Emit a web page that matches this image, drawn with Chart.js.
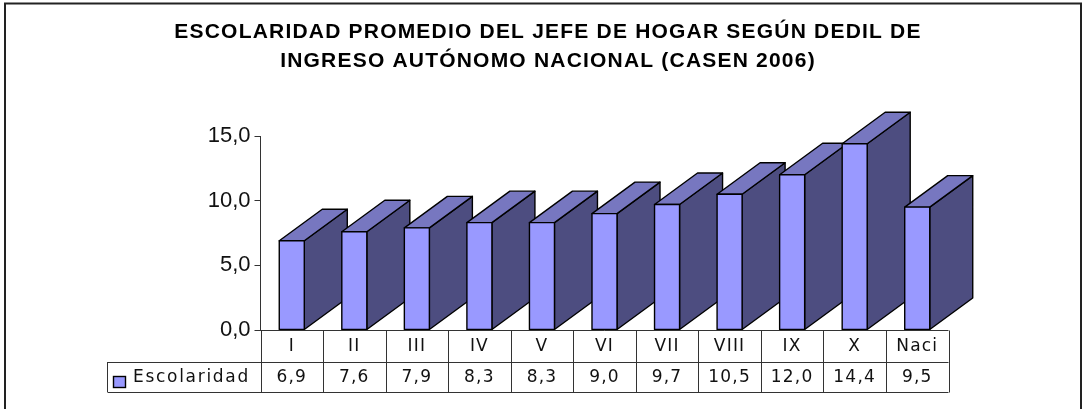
<!DOCTYPE html>
<html><head><meta charset="utf-8">
<style>html,body{margin:0;padding:0;background:#fff}#w{position:absolute;left:0;top:0;width:1088px;height:409px}</style>
<script src="https://cdn.jsdelivr.net/npm/chart.js@4/dist/chart.umd.min.js"></script>
</head><body><div id="w"><canvas id="c" width="1088" height="409"></canvas></div>
<script>
const categories=["I","II","III","IV","V","VI","VII","VIII","IX","X","Naci"];
const seriesName="Escolaridad";
const seriesValues=[6.9,7.6,7.9,8.3,8.3,9.0,9.7,10.5,12.0,14.4,9.5];
const titleLines=["ESCOLARIDAD PROMEDIO DEL JEFE DE HOGAR SEGÚN DEDIL DE","INGRESO AUTÓNOMO NACIONAL (CASEN 2006)"];
const fmt=v=>v.toFixed(1).replace(".",",");
const DX=43,DY=31.5;
const TF='"DejaVu Sans"';
const threeD={id:"threeD",
 beforeDraw(ch){const c=ch.ctx;c.save();c.fillStyle="#fff";c.fillRect(0,0,1088,409);c.strokeStyle="#222";c.lineWidth=2;c.strokeRect(5,3.5,1076,420);c.restore();},
 afterDatasetsDraw(ch){const c=ch.ctx,m=ch.getDatasetMeta(0);
  c.save();c.lineJoin="round";c.lineWidth=1.4;c.strokeStyle="#000";
  m.data.forEach(b=>{const h=b.getProps(["x","y","base","width"],true);const l=h.x-h.width/2,r=h.x+h.width/2,t=h.y,bo=h.base;
   c.fillStyle="#4D4D80";c.beginPath();c.moveTo(r,t);c.lineTo(r+DX,t-DY);c.lineTo(r+DX,bo-DY);c.lineTo(r,bo);c.closePath();c.fill();c.stroke();
   c.fillStyle="#7777C0";c.beginPath();c.moveTo(l,t);c.lineTo(l+DX,t-DY);c.lineTo(r+DX,t-DY);c.lineTo(r,t);c.closePath();c.fill();c.stroke();
   c.fillStyle="#9999FF";c.fillRect(l,t,h.width,bo-t);c.strokeRect(l,t,h.width,bo-t);
  });
  c.restore();},
 afterDraw(ch){const c=ch.ctx,x=ch.scales.x,y0=Math.round(ch.scales.y.getPixelForValue(0))+.5;
  const step=x.getPixelForValue(1)-x.getPixelForValue(0),L=x.left,R=x.right,r1=362,r2=392,LG=107;
  c.save();c.strokeStyle="#333";c.lineWidth=1;c.beginPath();
  c.moveTo(L,y0);c.lineTo(R,y0);
  c.moveTo(LG+.5,r1+.5);c.lineTo(R,r1+.5);c.moveTo(LG+.5,r2+.5);c.lineTo(R,r2+.5);c.moveTo(LG+.5,r1);c.lineTo(LG+.5,r2);
  for(let i=0;i<=categories.length;i++){const p=Math.round(L+step*i)+.5;c.moveTo(p,y0);c.lineTo(p,r2+.5);}
  c.stroke();
  c.fillStyle="#111";c.textAlign="center";c.textBaseline="middle";c.font="17px "+TF;c.letterSpacing="1.2px";
  seriesValues.forEach((v,i)=>c.fillText(fmt(v),x.getPixelForValue(i),r1+16));
  categories.forEach((s,i)=>c.fillText(s,x.getPixelForValue(i),347));
  c.textAlign="left";c.letterSpacing="1.7px";c.fillText(seriesName,133,r1+16);
  c.letterSpacing="0px";
  c.fillStyle="#9999FF";c.strokeStyle="#000";c.lineWidth=1.4;c.fillRect(113.5,376.5,12,11);c.strokeRect(113.5,376.5,12,11);
  c.fillStyle="#000";c.textAlign="center";c.font='bold 21px "Liberation Sans"';c.letterSpacing="1.2px";
  titleLines.forEach((s,i)=>c.fillText(s,548,32+i*29));
  c.restore();}
};
new Chart(document.getElementById("c"),{type:"bar",plugins:[threeD],
 data:{labels:categories,datasets:[{label:seriesName,data:seriesValues,backgroundColor:"rgba(0,0,0,0)",borderWidth:0,barPercentage:.4,categoryPercentage:1}]},
 options:{responsive:false,animation:false,
  layout:{padding:{left:0,top:136,right:139.5,bottom:0}},
  plugins:{legend:{display:false},title:{display:false},tooltip:{enabled:false}},
  scales:{
   x:{offset:true,afterFit(s){s.height=79;},grid:{display:false},border:{display:false},ticks:{display:false}},
   y:{min:0,max:15,afterFit(s){s.width=260.5;},grid:{display:true,drawOnChartArea:false,drawTicks:true,tickLength:6,color:"#333"},border:{display:true,color:"#333"},
    ticks:{stepSize:5,color:"#111",font:{family:"Liberation Sans",size:22},padding:4,callback:v=>fmt(v)}}
  }}});
</script></body></html>
